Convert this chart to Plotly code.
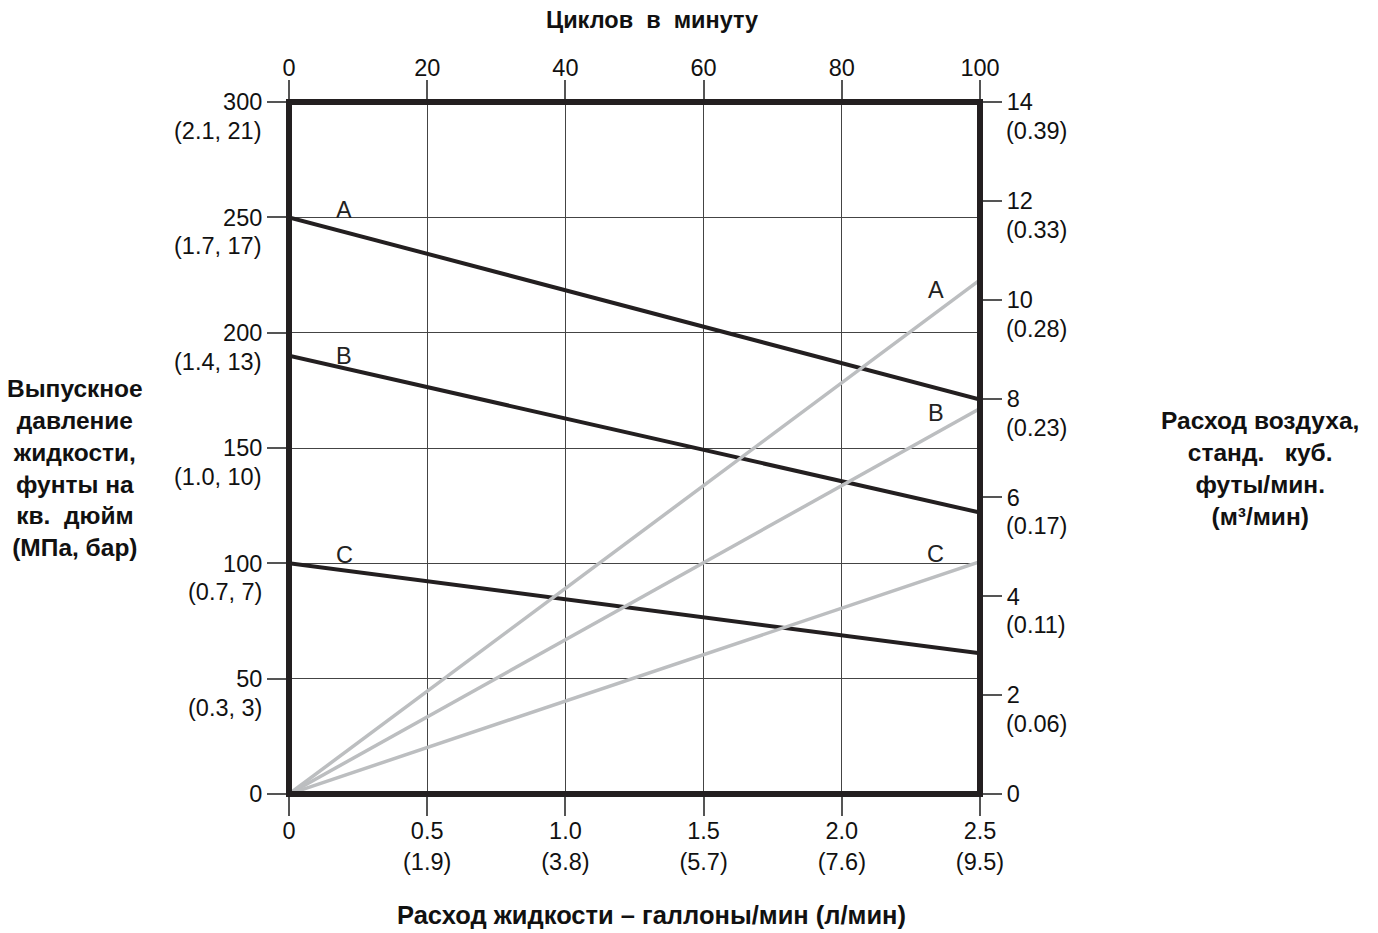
import plotly.graph_objects as go

# fluid flow, gpm (bottom axis)
flow_gpm = [0, 2.5]
# outlet fluid pressure, psi (black lines)
press_a = [250, 171]
press_b = [190, 122]
press_c = [100, 61]
# air consumption, scfm (gray lines)
air_a = [0, 10.4]
air_b = [0, 7.8]
air_c = [0, 4.7]

x_ticks = [0, 0.5, 1.0, 1.5, 2.0, 2.5]
x_labels = ["0", "0.5<br>(1.9)", "1.0<br>(3.8)", "1.5<br>(5.7)", "2.0<br>(7.6)", "2.5<br>(9.5)"]
top_ticks = [0, 20, 40, 60, 80, 100]
y_ticks = [0, 50, 100, 150, 200, 250, 300]
y_sub = ["", "(0.3, 3)", "(0.7, 7)", "(1.0, 10)", "(1.4, 13)", "(1.7, 17)", "(2.1, 21)"]
r_ticks = [0, 2, 4, 6, 8, 10, 12, 14]
r_sub = ["", "(0.06)", "(0.11)", "(0.17)", "(0.23)", "(0.28)", "(0.33)", "(0.39)"]

FONT = "Liberation Sans, Arial, sans-serif"
BLACK = "#231f20"
GRAY = "#bcbec0"
TSIZE = 23.5

fig = go.Figure()

for vals in (air_a, air_b, air_c):
    fig.add_trace(go.Scatter(x=flow_gpm, y=vals, mode="lines", yaxis="y2",
                             line=dict(color=GRAY, width=3.5), showlegend=False))
for vals in (press_a, press_b, press_c):
    fig.add_trace(go.Scatter(x=flow_gpm, y=vals, mode="lines",
                             line=dict(color=BLACK, width=4), showlegend=False))
# dummy trace so the top axis is drawn
fig.add_trace(go.Scatter(x=[0, 100], y=[0, 0], xaxis="x2", mode="lines",
                         line=dict(width=0), hoverinfo="skip", showlegend=False))

tick_common = dict(ticks="outside", ticklen=21, tickwidth=1.5, tickcolor="#555555",
                   tickfont=dict(family=FONT, size=TSIZE, color="#111111"), zeroline=False)

# page body has an 8px margin, so margins are trimmed to keep the plot where it belongs
fig.update_layout(
    width=1378, height=933,
    margin=dict(l=281, r=406, t=94, b=147),
    plot_bgcolor="white", paper_bgcolor="white",
    xaxis=dict(range=[0, 2.5], tickvals=x_ticks, ticktext=x_labels, ticklabelstandoff=-5,
               showgrid=True, gridcolor="#444444", gridwidth=1, **tick_common),
    xaxis2=dict(range=[0, 100], tickvals=top_ticks, overlaying="x", side="top",
                ticklabelstandoff=-5, showgrid=False, **tick_common),
    yaxis=dict(range=[0, 300], tickvals=y_ticks,
               showgrid=True, gridcolor="#444444", gridwidth=1, **tick_common),
    yaxis2=dict(range=[0, 14], tickvals=r_ticks, overlaying="y", side="right",
                showgrid=False, **tick_common),
    shapes=[dict(type="rect", xref="paper", yref="paper", x0=0, x1=1, y0=0, y1=1,
                 line=dict(color=BLACK, width=6), layer="above")],
)

ann = []
for v, s in zip(y_ticks, y_sub):
    if s:
        ann.append(dict(x=0, xref="paper", y=v, yref="y", text=s, showarrow=False,
                        xanchor="right", xshift=-25, yshift=-29,
                        font=dict(family=FONT, size=TSIZE, color="#111111")))
for v, s in zip(r_ticks, r_sub):
    if s:
        ann.append(dict(x=1, xref="paper", y=v, yref="y2", text=s, showarrow=False,
                        xanchor="left", xshift=24, yshift=-29,
                        font=dict(family=FONT, size=TSIZE, color="#111111")))

# curve labels
lab_font = dict(family=FONT, size=TSIZE, color="#222222")
for x, y, t, yr in [(0.2, 253, "A", "y"), (0.2, 190, "B", "y"), (0.2, 103.5, "C", "y"),
                    (2.34, 10.2, "A", "y2"), (2.34, 7.7, "B", "y2"), (2.34, 4.85, "C", "y2")]:
    ann.append(dict(x=x, y=y, xref="x", yref=yr, text=t, showarrow=False,
                    yanchor="middle", font=lab_font))

title_font = dict(family=FONT, size=24.5, color="#111111")
ann += [
    dict(x=0.525, y=1, xref="paper", yref="paper", yshift=82, text="<b>Циклов  в  минуту</b>",
         showarrow=False, xanchor="center", yanchor="middle", font=dict(family=FONT, size=23.5, color="#111111")),
    dict(x=0.525, y=0, xref="paper", yref="paper", yshift=-121,
         text="<b>Расход жидкости – галлоны/мин (л/мин)</b>",
         showarrow=False, xanchor="center", yanchor="middle", font=dict(family=FONT, size=25.5, color="#111111")),
    dict(x=-0.31, y=0.471, xref="paper", yref="paper",
         text="<b>Выпускное<br>давление<br>жидкости,<br>фунты на<br>кв.&nbsp; дюйм<br>(МПа, бар)</b>",
         showarrow=False, xanchor="center", yanchor="middle", align="center", font=title_font),
    dict(x=1.405, y=0.471, xref="paper", yref="paper",
         text="<b>Расход воздуха,<br>станд.&nbsp;&nbsp; куб.<br>футы/мин.<br>(м³/мин)</b>",
         showarrow=False, xanchor="center", yanchor="middle", align="center", font=title_font),
]
fig.update_layout(annotations=ann)

fig.write_html("out.html")
